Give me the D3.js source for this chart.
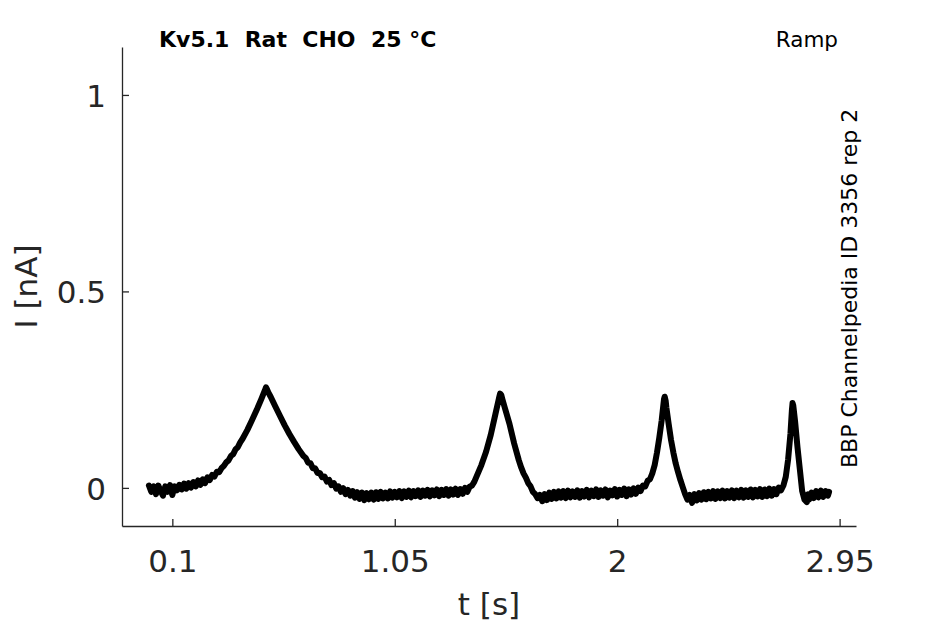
<!DOCTYPE html>
<html>
<head>
<meta charset="utf-8">
<script src="https://cdn.jsdelivr.net/npm/d3@7"></script>
<style>
  html, body { margin: 0; padding: 0; background: #fff; }
  svg { display: block; font-family: "DejaVu Sans", sans-serif; }
</style>
</head>
<body>
<svg id="chart" width="945" height="624"></svg>
<script>
// ---- data ----
const titleText = "Kv5.1  Rat  CHO  25 °C";
const protocolText = "Ramp";
const sourceText = "BBP Channelpedia ID 3356 rep 2";
const xLabel = "t [s]";
const yLabel = "I [nA]";
const xTicks = [0.1, 1.05, 2, 2.95];
const xTickLabels = ["0.1", "1.05", "2", "2.95"];
const yTicks = [0, 0.5, 1];
const yTickLabels = ["0", "0.5", "1"];
const xDomain = [-0.115, 3.02];
const yDomain = [-0.097, 1.122];

// recorded current trace: [time (s), current (nA)]
const trace = [
  [0.00,0.006],[0.01,-0.010],[0.02,0.004],[0.03,-0.016],[0.04,0.006],[0.05,-0.008],[0.06,-0.020],[0.07,0.004],
  [0.08,-0.010],[0.09,0.007],[0.10,-0.018],[0.11,0.004],[0.12,-0.006],[0.13,0.008],[0.14,-0.004],[0.15,0.011],
  [0.16,-0.002],[0.17,0.012],[0.18,0.001],[0.19,0.015],[0.20,0.004],[0.21,0.019],[0.22,0.008],[0.23,0.022],
  [0.24,0.012],[0.25,0.027],[0.26,0.020],[0.27,0.033],[0.28,0.029],[0.29,0.041],[0.30,0.040],[0.31,0.050],
  [0.32,0.056],[0.33,0.065],[0.34,0.070],[0.35,0.081],[0.36,0.086],[0.37,0.098],[0.38,0.104],[0.39,0.116],
  [0.40,0.125],[0.42,0.147],[0.44,0.172],[0.46,0.198],[0.48,0.226],[0.495,0.248],[0.50,0.256],[0.505,0.250],
  [0.51,0.243],[0.52,0.232],[0.54,0.207],[0.56,0.183],[0.58,0.159],[0.60,0.137],[0.62,0.117],[0.64,0.098],
  [0.66,0.081],[0.67,0.076],[0.68,0.064],[0.69,0.063],[0.70,0.050],[0.71,0.050],[0.72,0.038],[0.73,0.038],
  [0.74,0.027],[0.75,0.029],[0.76,0.016],[0.77,0.020],[0.78,0.007],[0.79,0.012],[0.80,-0.002],[0.81,0.004],
  [0.82,-0.010],[0.83,-0.001],[0.84,-0.016],[0.85,-0.005],[0.86,-0.020],[0.87,-0.008],[0.88,-0.025],[0.89,-0.011],
  [0.90,-0.028],[0.91,-0.012],[0.92,-0.031],[0.93,-0.013],[0.94,-0.029],[0.95,-0.012],[0.96,-0.030],[0.97,-0.011],
  [0.98,-0.028],[0.99,-0.010],[1.00,-0.027],[1.01,-0.012],[1.02,-0.027],[1.03,-0.009],[1.04,-0.025],[1.05,-0.010],
  [1.06,-0.024],[1.07,-0.008],[1.08,-0.026],[1.09,-0.009],[1.10,-0.023],[1.11,-0.007],[1.12,-0.024],[1.13,-0.008],
  [1.14,-0.021],[1.15,-0.006],[1.16,-0.023],[1.17,-0.007],[1.18,-0.020],[1.19,-0.005],[1.20,-0.022],[1.21,-0.006],
  [1.22,-0.019],[1.23,-0.004],[1.24,-0.021],[1.25,-0.005],[1.26,-0.018],[1.27,-0.003],[1.28,-0.020],[1.29,-0.004],
  [1.30,-0.017],[1.31,-0.002],[1.32,-0.018],[1.33,-0.003],[1.34,-0.015],[1.35,0.000],[1.36,-0.010],[1.37,0.003],
  [1.38,0.006],[1.39,0.016],[1.40,0.030],[1.42,0.058],[1.44,0.092],[1.46,0.135],[1.48,0.188],[1.495,0.228],
  [1.50,0.240],[1.505,0.236],[1.51,0.225],[1.52,0.204],[1.54,0.163],[1.56,0.113],[1.58,0.070],[1.59,0.052],
  [1.60,0.037],[1.61,0.026],[1.62,0.012],[1.63,0.004],[1.64,-0.010],[1.65,-0.016],[1.66,-0.026],[1.67,-0.018],
  [1.68,-0.034],[1.69,-0.016],[1.70,-0.031],[1.71,-0.012],[1.72,-0.028],[1.73,-0.010],[1.74,-0.027],[1.75,-0.009],
  [1.76,-0.025],[1.77,-0.008],[1.78,-0.026],[1.79,-0.007],[1.80,-0.024],[1.81,-0.009],[1.82,-0.023],[1.83,-0.006],
  [1.84,-0.025],[1.85,-0.008],[1.86,-0.022],[1.87,-0.005],[1.88,-0.024],[1.89,-0.007],[1.90,-0.021],[1.91,-0.004],
  [1.92,-0.023],[1.93,-0.006],[1.94,-0.020],[1.95,-0.004],[1.96,-0.024],[1.97,-0.007],[1.98,-0.019],[1.99,-0.003],
  [2.00,-0.022],[2.01,-0.005],[2.02,-0.018],[2.03,-0.002],[2.04,-0.021],[2.05,-0.004],[2.06,-0.017],[2.07,-0.001],
  [2.08,-0.015],[2.09,0.001],[2.10,-0.008],[2.11,0.006],[2.12,0.004],[2.13,0.018],[2.14,0.022],[2.15,0.037],
  [2.16,0.058],[2.17,0.090],[2.18,0.128],[2.19,0.172],[2.20,0.226],[2.203,0.232],[2.207,0.222],[2.21,0.205],
  [2.22,0.162],[2.23,0.122],[2.24,0.090],[2.25,0.062],[2.26,0.040],[2.27,0.020],[2.28,0.002],[2.29,-0.016],
  [2.30,-0.030],[2.31,-0.018],[2.32,-0.038],[2.33,-0.016],[2.34,-0.032],[2.35,-0.013],[2.36,-0.030],[2.37,-0.011],
  [2.38,-0.029],[2.39,-0.010],[2.40,-0.027],[2.41,-0.008],[2.42,-0.028],[2.43,-0.009],[2.44,-0.026],[2.45,-0.007],
  [2.46,-0.027],[2.47,-0.008],[2.48,-0.025],[2.49,-0.006],[2.50,-0.026],[2.51,-0.007],[2.52,-0.024],[2.53,-0.005],
  [2.54,-0.025],[2.55,-0.006],[2.56,-0.023],[2.57,-0.004],[2.58,-0.024],[2.59,-0.005],[2.60,-0.022],[2.61,-0.003],
  [2.62,-0.023],[2.63,-0.004],[2.64,-0.021],[2.65,-0.002],[2.66,-0.020],[2.67,-0.003],[2.68,-0.016],[2.69,0.001],
  [2.70,-0.006],[2.71,0.006],[2.72,0.028],[2.73,0.072],[2.74,0.138],[2.746,0.196],[2.749,0.216],[2.752,0.210],
  [2.76,0.168],[2.77,0.104],[2.78,0.048],[2.79,-0.008],[2.80,-0.030],[2.81,-0.036],[2.815,-0.016],[2.82,-0.030],
  [2.83,-0.012],[2.84,-0.026],[2.85,-0.008],[2.86,-0.024],[2.87,-0.007],[2.88,-0.023],[2.89,-0.008],[2.90,-0.020],
  [2.905,-0.010]
];

// ---- layout ----
const plot = { left: 122, right: 856, top: 47, bottom: 526 };
const axisColor = "#262626";

const svg = d3.select("#chart");
const x = d3.scaleLinear().domain(xDomain).range([plot.left, plot.right]);
const y = d3.scaleLinear().domain(yDomain).range([plot.bottom, plot.top]);

// trace
const line = d3.line().x(d => x(d[0])).y(d => y(d[1]));
svg.append("path")
  .datum(trace)
  .attr("d", line)
  .attr("fill", "none")
  .attr("stroke", "#000")
  .attr("stroke-width", 6)
  .attr("stroke-linejoin", "round")
  .attr("stroke-linecap", "round");

// x axis (ticks inward)
const xAxis = d3.axisBottom(x)
  .tickValues(xTicks)
  .tickFormat((d, i) => xTickLabels[i])
  .tickSizeInner(-7)
  .tickSizeOuter(0)
  .tickPadding(0);
const gx = svg.append("g").attr("transform", `translate(0,${plot.bottom})`).call(xAxis);
gx.select(".domain").attr("stroke", axisColor).attr("stroke-width", 1.3);
gx.selectAll(".tick line").attr("stroke", axisColor).attr("stroke-width", 1.3);
gx.selectAll(".tick text")
  .attr("fill", axisColor)
  .attr("font-size", 31)
  .attr("font-family", "DejaVu Sans")
  .attr("dy", null)
  .attr("y", 46);

// y axis (ticks inward)
const yAxis = d3.axisLeft(y)
  .tickValues(yTicks)
  .tickFormat((d, i) => yTickLabels[i])
  .tickSizeInner(-7)
  .tickSizeOuter(0)
  .tickPadding(0);
const gy = svg.append("g").attr("transform", `translate(${plot.left},0)`).call(yAxis);
gy.select(".domain").attr("stroke", axisColor).attr("stroke-width", 1.3);
gy.selectAll(".tick line").attr("stroke", axisColor).attr("stroke-width", 1.3);
gy.selectAll(".tick text")
  .attr("fill", axisColor)
  .attr("font-size", 31)
  .attr("font-family", "DejaVu Sans")
  .attr("x", -16)
  .attr("dy", "0.37em");

// axis titles
svg.append("text")
  .attr("x", (plot.left + plot.right) / 2)
  .attr("y", 615)
  .attr("text-anchor", "middle")
  .attr("font-size", 31)
  .attr("fill", axisColor)
  .text(xLabel);

svg.append("text")
  .attr("transform", `translate(37,${(plot.top + plot.bottom) / 2}) rotate(-90)`)
  .attr("text-anchor", "middle")
  .attr("font-size", 31)
  .attr("fill", axisColor)
  .text(yLabel);

// title and annotations
svg.append("text")
  .attr("x", 159)
  .attr("y", 47)
  .attr("font-size", 22)
  .attr("font-weight", "bold")
  .attr("fill", "#000")
  .style("white-space", "pre")
  .attr("xml:space", "preserve")
  .text(titleText);

svg.append("text")
  .attr("x", 838)
  .attr("y", 47)
  .attr("text-anchor", "end")
  .attr("font-size", 21.5)
  .attr("fill", "#000")
  .text(protocolText);

svg.append("text")
  .attr("transform", "translate(857,468) rotate(-90)")
  .attr("text-anchor", "start")
  .attr("font-size", 22)
  .attr("fill", "#000")
  .text(sourceText);
</script>
</body>
</html>
